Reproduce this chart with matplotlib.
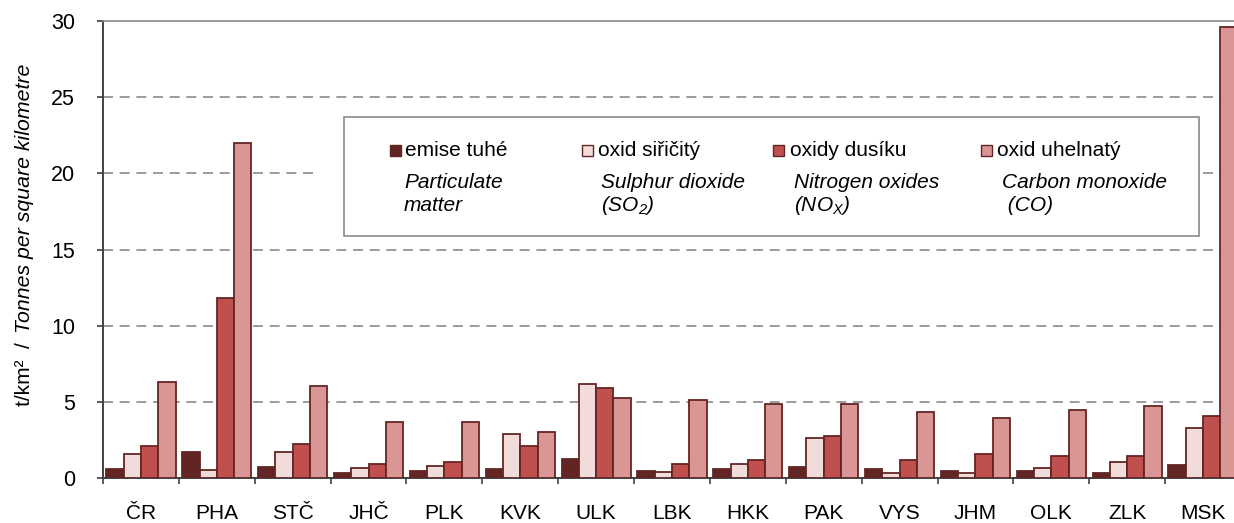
import numpy as np
import matplotlib as mpl
import matplotlib.pyplot as plt
from matplotlib.patches import Rectangle

# regions (kraje) and emission densities, t/km2
regions = ['ČR', 'PHA', 'STČ', 'JHČ', 'PLK', 'KVK', 'ULK', 'LBK',
           'HKK', 'PAK', 'VYS', 'JHM', 'OLK', 'ZLK', 'MSK']
particulate = [0.57, 1.73, 0.70, 0.31, 0.44, 0.57, 1.23, 0.44,
               0.57, 0.70, 0.57, 0.44, 0.44, 0.31, 0.83]
sulphur = [1.60, 0.50, 1.73, 0.68, 0.81, 2.92, 6.18, 0.37,
           0.94, 2.63, 0.31, 0.30, 0.68, 1.08, 3.29]
nitrogen = [2.13, 11.83, 2.23, 0.94, 1.05, 2.13, 5.91, 0.94,
            1.21, 2.78, 1.21, 1.60, 1.47, 1.47, 4.07]
carbon = [6.31, 22.0, 6.02, 3.68, 3.68, 3.02, 5.26, 5.12,
          4.86, 4.86, 4.34, 3.94, 4.47, 4.73, 29.63]

labels_cz = ['emise tuhé', 'oxid siřičitý', 'oxidy dusíku', 'oxid uhelnatý']
labels_en = [('Particulate', 'matter'),
             ('Sulphur dioxide', '(SO$_2$)'),
             ('Nitrogen oxides', '(NO$_X$)'),
             ('Carbon monoxide', ' (CO)')]
colors = ['#632523', '#f2dcdb', '#c0504d', '#d99694']
edge = '#632523'

W, H = 1234, 523
FS = 15

plt.rcParams['font.family'] = ['Liberation Sans', 'DejaVu Sans']
plt.rcParams['mathtext.fontset'] = 'custom'
plt.rcParams['mathtext.rm'] = 'Liberation Sans:italic'
plt.rcParams['mathtext.it'] = 'Liberation Sans:italic'


def px(x, y):
    # pixel position in the figure -> figure fraction
    return x / W, 1 - y / H


def main():
    fig = plt.figure(figsize=(W / 100, H / 100), dpi=100)
    ax = fig.add_axes([103 / W, 45 / H, 1138 / W, 457 / H])

    x = np.arange(len(regions))
    w = 0.228
    series = [particulate, sulphur, nitrogen, carbon]
    for k, vals in enumerate(series):
        ax.bar(x + (k - 1.5) * w, vals, w, color=colors[k],
               edgecolor=edge, linewidth=1.3, zorder=3)

    ax.set_xlim(-0.5, len(regions) - 0.5)
    ax.set_ylim(0, 30)
    ax.set_yticks(np.arange(0, 31, 5))
    for v in range(5, 30, 5):
        ax.axhline(v, color='#8a8a8a', lw=1.2, ls=(0, (6, 4)), zorder=1)

    ax.set_xticks(x)
    ax.set_xticklabels(regions, fontsize=FS)
    ax.set_xticks(np.arange(-0.5, len(regions), 1), minor=True)
    ax.tick_params(axis='x', which='major', length=0, pad=19)
    ax.tick_params(axis='x', which='minor', length=4, width=1.2,
                   color='#404040', direction='out')
    ax.tick_params(axis='y', length=4, width=1.2, color='#404040',
                   labelsize=15.5, pad=16)

    for s in ['left', 'bottom']:
        ax.spines[s].set_color('#404040')
        ax.spines[s].set_linewidth(1.4)
    ax.spines['top'].set_color('#8a8a8a')
    ax.spines['top'].set_linewidth(1.2)
    ax.spines['right'].set_visible(False)

    # y axis label: regular part + italic part
    fig.text(*px(25, 406), 't/km²  /', rotation=90, ha='center',
             va='bottom', fontsize=FS)
    fig.text(*px(25, 333), 'Tonnes per square kilometre', rotation=90,
             ha='center', va='bottom', fontsize=15.3, style='italic')

    # legend box (with white area hiding part of the grid)
    fig.add_artist(Rectangle(px(315, 236), 884 / W, 119 / H,
                             transform=fig.transFigure, facecolor='white',
                             edgecolor='none', zorder=5))
    fig.add_artist(Rectangle(px(344, 236), 855 / W, 119 / H,
                             transform=fig.transFigure, facecolor='white',
                             edgecolor='#8a8a8a', linewidth=1.2, zorder=6))
    mark_x = [390, 582, 773, 981]
    text_x = [405, 598, 790, 997]
    en_x = [404, 601, 794, 1002]
    for k in range(4):
        fig.add_artist(Rectangle(px(mark_x[k], 156), 11 / W, 11 / H,
                                 transform=fig.transFigure,
                                 facecolor=colors[k], edgecolor=edge,
                                 linewidth=1.0, zorder=7))
        fig.text(*px(text_x[k], 150), labels_cz[k], fontsize=FS,
                 va='center', ha='left', zorder=7)
        fig.text(*px(en_x[k], 182), labels_en[k][0], fontsize=FS,
                 style='italic', va='center', ha='left', zorder=7)
        fig.text(*px(en_x[k], 205), labels_en[k][1], fontsize=FS,
                 style='italic', va='center', ha='left', zorder=7)

    fig.savefig('out.png', dpi=100)


if __name__ == '__main__':
    main()
